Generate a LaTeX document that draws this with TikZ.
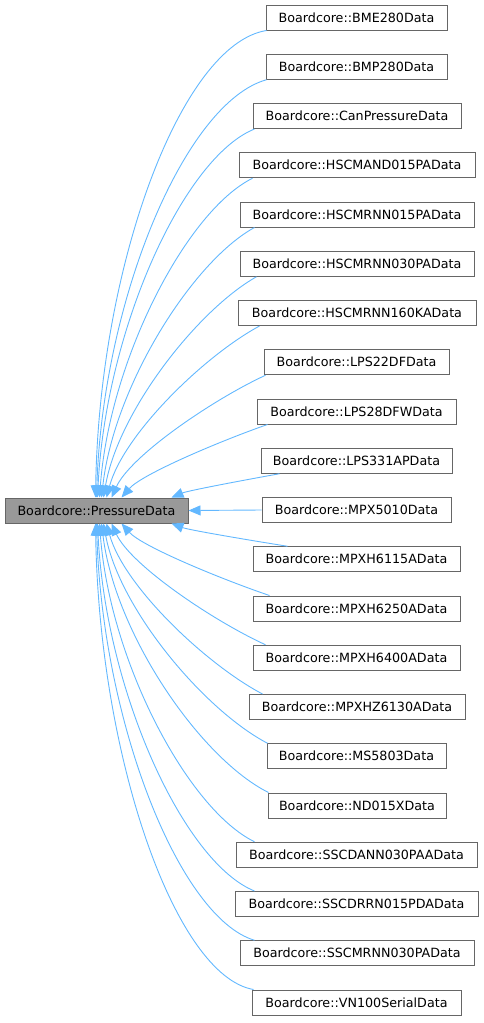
\documentclass[tikz,border=0pt]{standalone}
\usepackage{fontspec}
\setmainfont{DejaVu Sans}
\usetikzlibrary{arrows.meta}
\definecolor{edgeblue}{HTML}{63B8FF}
\definecolor{boxgray}{HTML}{666666}
\definecolor{parentfill}{HTML}{999999}
\tikzset{
  cls/.style={draw=boxgray, line width=1pt, fill=white, inner sep=0pt, minimum height=25pt,
    font=\fontsize{12.7}{15}\selectfont, text=black},
  parentbox/.style={cls, fill=parentfill},
  inh/.style={draw=edgeblue, line width=0.9pt, -{Triangle[length=12pt,width=10pt,fill=edgeblue]}},
}
\begin{document}
\begin{tikzpicture}[x=1pt,y=-1pt]
\useasboundingbox (0,0) rectangle (483,1023);
\node[parentbox, minimum width=183pt] (p) at (96.5,510.5) {Boardcore::PressureData};
\foreach \i/\nm/\xL/\xR in {
 0/BME280Data/266/447, 1/BMP280Data/266/447, 2/CanPressureData/253/461,
 3/HSCMAND015PAData/239/475, 4/HSCMRNN015PAData/240/474, 5/HSCMRNN030PAData/240/474,
 6/HSCMRNN160KAData/238/476, 7/LPS22DFData/264/449, 8/LPS28DFWData/257/456,
 9/LPS331APData/261/452, 10/MPX5010Data/262/451, 11/MPXH6115AData/253/460,
 12/MPXH6250AData/253/460, 13/MPXH6400AData/253/460, 14/MPXHZ6130AData/249/465,
 15/MS5803Data/267/446, 16/ND015XData/268/446, 17/SSCDANN030PAAData/236/477,
 18/SSCDRRN015PDAData/235/478, 19/SSCMRNN030PAData/240/474, 20/VN100SerialData/252/461} {
  \pgfmathsetmacro\yc{17.5+49.25*\i}
  \pgfmathsetmacro\xc{(\xL+\xR)/2}
  \pgfmathsetmacro\w{\xR-\xL}
  \node[cls, minimum width=\w pt] (c\i) at (\xc,\yc) {Boardcore::\nm};
}
\draw[inh] (c10.west) -- (p.east);
\foreach \i/\xL/\sx/\ex in {
 0/266/267/96, 1/266/267/97, 2/253/255/98, 3/239/253/100, 4/240/255/102,
 5/240/257/104, 6/238/260/107, 7/264/266/112, 8/257/268/122, 9/261/280/172,
 11/253/288/172, 12/253/270/122, 13/253/266/112, 14/249/263/107, 15/267/268/104,
 16/268/269/102, 17/236/255/100, 18/235/255/98, 19/240/255/97, 20/252/254/96} {
  \pgfmathsetmacro\yc{17.5+49.25*\i}
  \pgfmathsetmacro\sgn{\i<10 ? 1 : -1}
  \pgfmathsetmacro\k{\i<10 ? 10-\i : \i-10}
  \pgfmathsetmacro\f{(\k-1)/9}
  \pgfmathsetmacro\sy{\yc+\sgn*12.5}
  \pgfmathsetmacro\ey{\i<10 ? 498 : 523}
  \pgfmathsetmacro\dx{\sx-\ex}
  \pgfmathsetmacro\dy{abs(\ey-\sy)}
  \pgfmathsetmacro\cax{\sx-(0.3+0.2*\f)*\dx}
  \pgfmathsetmacro\cay{\sy+\sgn*(0.25-0.22*\f)*\dy}
  \pgfmathsetmacro\cbx{\ex+(0.15-0.13*\f)*\dx}
  \pgfmathsetmacro\cby{\ey-\sgn*(0.3+0.2*\f)*\dy}
  \ifnum\i<10
    \def\anc{south west}\def\panc{north west}
  \else
    \def\anc{north west}\def\panc{south west}
  \fi
  \draw[inh] ([xshift=\sx pt-\xL pt]c\i.\anc) .. controls (\cax,\cay) and (\cbx,\cby) .. ([xshift=\ex pt-5pt]p.\panc);
}
\end{tikzpicture}
\end{document}
